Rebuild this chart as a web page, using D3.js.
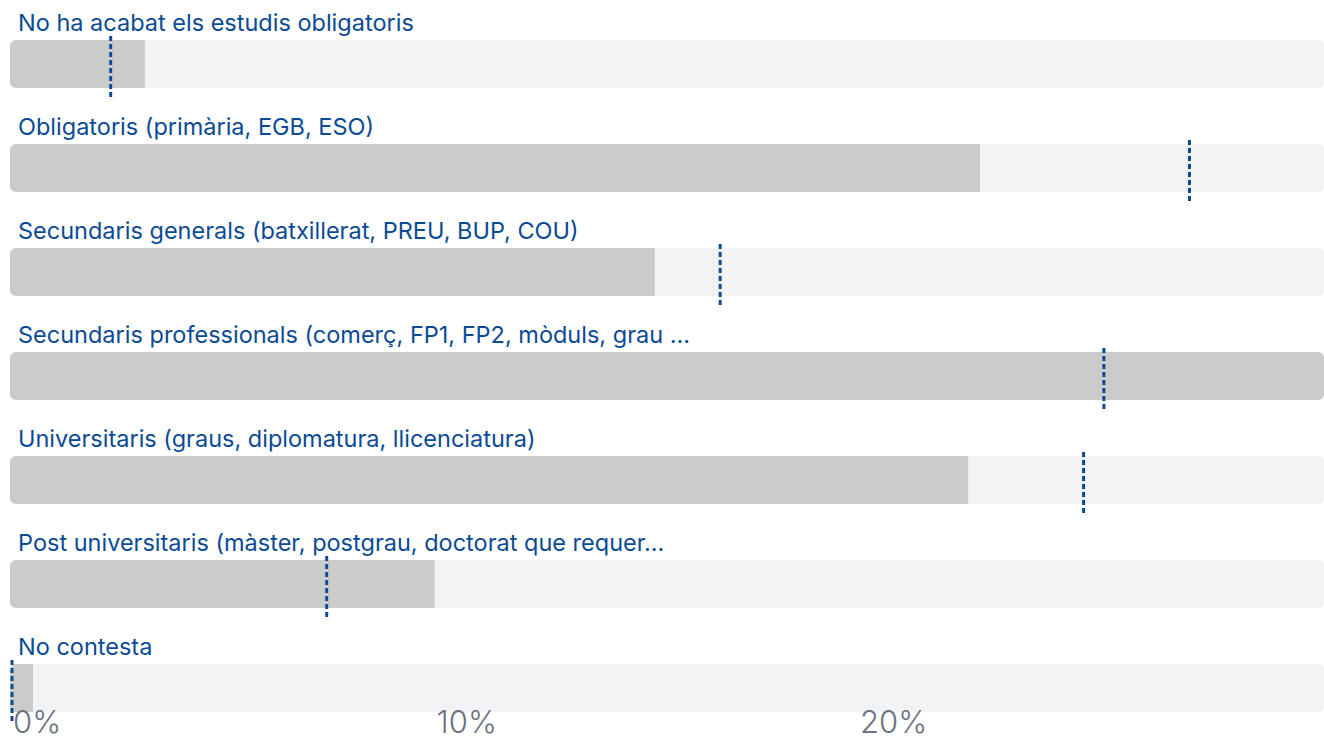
<!DOCTYPE html>
<html>
<head>
<meta charset="utf-8">
<script src="https://cdn.jsdelivr.net/npm/d3@7"></script>
<style>
  html, body { margin: 0; padding: 0; background: #fff; }
  svg { display: block; }
</style>
</head>
<body>
<div id="chart"></div>
<script>
// Education level categories (labels as displayed)
const categories = [
  "No ha acabat els estudis obligatoris",
  "Obligatoris (primària, EGB, ESO)",
  "Secundaris generals (batxillerat, PREU, BUP, COU)",
  "Secundaris professionals (comerç, FP1, FP2, mòduls, grau …",
  "Universitaris (graus, diplomatura, llicenciatura)",
  "Post universitaris (màster, postgrau, doctorat que requer…",
  "No contesta"
];
// Bar values (%)
const barValues = [3.16, 22.88, 15.2, 31.0, 22.6, 10.0, 0.52];
// Reference marker values (%)
const markerValues = [2.33, 27.8, 16.72, 25.78, 25.3, 7.43, 0];
// Axis ticks
const tickValues = [0, 10, 20];
const tickLabels = ["0%", "10%", "20%"];

const W = 1324, H = 740;
const svg = d3.select("#chart").append("svg")
  .attr("width", W).attr("height", H);

const x = d3.scaleLinear().domain([0, d3.max(barValues)]).range([11, 1324]);

const rowStep = 104, trackH = 48, firstTrack = 40;
const rows = categories.map((c, i) => ({
  cat: c, value: barValues[i], marker: markerValues[i], top: firstTrack + i * rowStep
}));

const defs = svg.append("defs");
rows.forEach((d, i) => {
  defs.append("clipPath").attr("id", "clip" + i)
    .append("rect")
    .attr("x", 10).attr("y", d.top)
    .attr("width", W - 10).attr("height", trackH).attr("rx", 6);
});

const row = svg.append("g").selectAll("g.row").data(rows).join("g").attr("class", "row");

// Category labels
row.append("text")
  .attr("x", 18)
  .attr("y", d => d.top - 9)
  .attr("fill", "#0b4a94")
  .style("font-family", "Inter, 'Noto Sans', sans-serif")
  .style("font-size", "23.5px")
  .text(d => d.cat);

// Background tracks
row.append("rect")
  .attr("x", 10)
  .attr("y", d => d.top)
  .attr("width", W - 10)
  .attr("height", trackH)
  .attr("rx", 6)
  .attr("fill", "#f2f3f5");

// Value bars, clipped to the rounded track
row.append("rect")
  .attr("clip-path", (d, i) => `url(#clip${i})`)
  .attr("x", 10)
  .attr("y", d => d.top)
  .attr("width", d => Math.max(0, x(d.value) - 10))
  .attr("height", trackH)
  .attr("fill", "#cbcbcb");

// Dotted reference markers
row.append("line")
  .attr("x1", d => x(d.marker) + 1)
  .attr("x2", d => x(d.marker) + 1)
  .attr("y1", d => d.top - 4)
  .attr("y2", d => d.top + trackH + 12)
  .attr("stroke", "#0b4a94")
  .attr("stroke-width", 3)
  .attr("stroke-dasharray", "5 3");

// Axis tick labels
svg.append("g").selectAll("text").data(tickValues).join("text")
  .attr("x", d => x(d) + 2)
  .attr("y", 733)
  .attr("fill", "#6b7280")
  .style("font-family", "Inter, 'Noto Sans', sans-serif")
  .style("font-size", "31px")
  .style("font-weight", "300")
  .text((d, i) => tickLabels[i]);
</script>
</body>
</html>
